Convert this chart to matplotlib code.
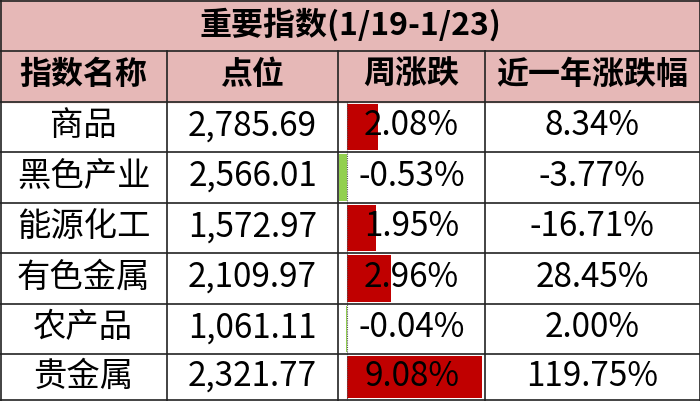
import matplotlib
matplotlib.use("Agg")
import matplotlib.pyplot as plt

plt.rcParams['font.family'] = ['Noto Sans CJK SC', 'DejaVu Sans']

title = "重要指数(1/19-1/23)"
headers = ["指数名称", "点位", "周涨跌", "近一年涨跌幅"]
names = ["商品", "黑色产业", "能源化工", "有色金属", "农产品", "贵金属"]
points = [2785.69, 2566.01, 1572.97, 2109.97, 1061.11, 2321.77]
weekly = [2.08, -0.53, 1.95, 2.96, -0.04, 9.08]
yearly = [8.34, -3.77, -16.71, 28.45, 2.00, 119.75]

W, H = 700, 401
fig = plt.figure(figsize=(7, 4.01), dpi=100)
ax = fig.add_axes([0, 0, 1, 1])
ax.set_xlim(0, W); ax.set_ylim(H, 0); ax.axis('off')

cols = [0, 167, 338, 485, 699]
title_h = 51
rows = [title_h + 50.5 * i for i in range(8)]
rows[-1] = H - 1
pink = '#e6b8b7'

ax.add_patch(plt.Rectangle((0, 0), W, rows[1], color=pink, zorder=0))
ax.text(W / 2, title_h / 2 - 1, title, ha='center', va='center', fontsize=23, fontweight='bold')
for j, h in enumerate(headers):
    ax.text((cols[j] + cols[j + 1]) / 2, (rows[0] + rows[1]) / 2 - 1, h, ha='center', va='center', fontsize=23, fontweight='bold')

# data bars
zero_x = 347
scale = (482 - zero_x) / max(weekly)
ys = [(rows[i + 1] + rows[i + 2]) / 2 for i in range(len(names))]
hs = [rows[i + 2] - rows[i + 1] - 4 for i in range(len(names))]
widths = [v * scale for v in weekly]
colors = ['#c00000' if v >= 0 else '#92d050' for v in weekly]
ax.barh(ys, widths, height=hs, left=zero_x, color=colors, zorder=1)
ax.plot([zero_x, zero_x], [rows[1], rows[-1]], color='#555555', lw=0.8, ls=(0, (1, 1)), zorder=2)

for i, n in enumerate(names):
    y = ys[i] - 1
    vals = [n, f"{points[i]:,.2f}", f"{weekly[i]:.2f}%", f"{yearly[i]:.2f}%"]
    for j, v in enumerate(vals):
        ax.text((cols[j] + cols[j + 1]) / 2, y, v, ha='center', va='center', fontsize=24, zorder=3)

# grid lines
for r in rows:
    ax.plot([0, W], [r, r], color='#222222', lw=1.2, zorder=4)
ax.plot([0, W], [0.5, 0.5], color='#222222', lw=1.2, zorder=4)
for c in [0.5, W - 0.5]:
    ax.plot([c, c], [0, H], color='#222222', lw=1.2, zorder=4)
for c in cols[1:-1]:
    ax.plot([c, c], [rows[0], H], color='#222222', lw=1.2, zorder=4)

fig.savefig('out.png', dpi=100)
